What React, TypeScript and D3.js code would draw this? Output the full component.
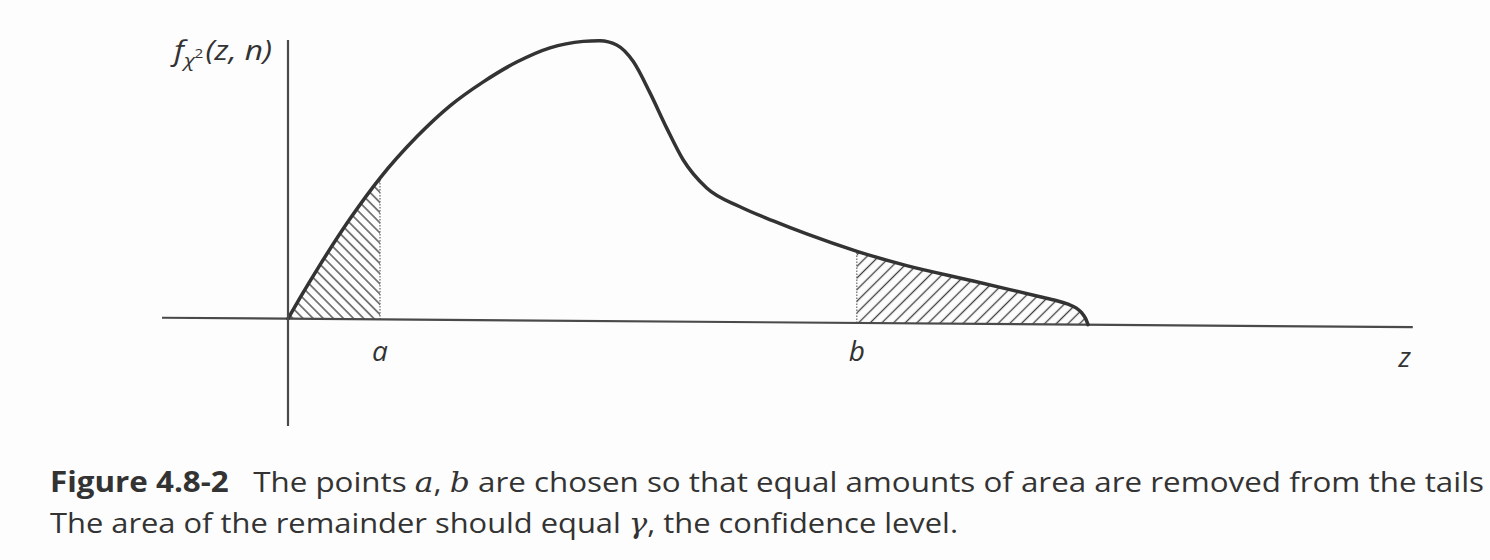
import React from 'react';
import * as d3 from 'd3';

// Chi-square density sketch: z positions and density heights (peak normalised to ~1)
const zValues = [0, 0.15, 0.4, 0.775, 1.15, 1.609, 2.025, 2.441, 2.859, 3.275, 3.691, 3.9, 4.109, 4.316, 4.525, 4.734, 4.941, 5.234, 5.65, 6.066, 6.484, 7.113, 7.734, 8.566, 9.4, 9.6, 9.75, 9.85, 9.92, 9.97, 10];
const density = [0, 0.075, 0.194, 0.36, 0.507, 0.656, 0.768, 0.855, 0.927, 0.979, 1.003, 1.006, 0.991, 0.932, 0.82, 0.694, 0.58, 0.48, 0.414, 0.364, 0.318, 0.257, 0.207, 0.154, 0.099, 0.086, 0.073, 0.06, 0.043, 0.022, 0];

// Lower and upper cut points; the tails beyond them are hatched
const criticalLabels = ['a', 'b'];
const criticalZ = [1.15, 7.11];

// Extent of the drawn axes in data units
const zAxisExtent = [-1.575, 14.06];
const fAxisExtent = [-0.385, 1.0];

const captionFigure = 'Figure 4.8-2';
const captionLine1 = ['The points ', 'a', ', ', 'b', ' are chosen so that equal amounts of area are removed from the tails'];
const captionLine2 = ['The area of the remainder should equal ', 'γ', ', the confidence level.'];

const W = 1490;
const H = 560;
const INK = '#333';
const SANS = '"Open Sans", "DejaVu Sans", sans-serif';
const SERIF = '"DejaVu Serif", "Liberation Serif", serif';

export default function App() {
  const x = d3.scaleLinear().domain([0, 10]).range([288, 1088]);
  const y = d3.scaleLinear().domain([0, 1]).range([318.7, 40]);

  const pts: [number, number][] = zValues.map((z, i) => [z, density[i]]);
  const curvePath = d3
    .line<[number, number]>()
    .x((d) => x(d[0]))
    .y((d) => y(d[1]))
    .curve(d3.curveMonotoneX)(pts) as string;
  const areaPath = d3
    .area<[number, number]>()
    .x((d) => x(d[0]))
    .y0(y(0))
    .y1((d) => y(d[1]))
    .curve(d3.curveMonotoneX)(pts) as string;

  const zMax = zValues[zValues.length - 1];
  const tails = [
    { id: 'hatchL', z0: 0, z1: criticalZ[0] },
    { id: 'hatchR', z0: criticalZ[1], z1: zMax },
  ];

  // the baseline of the figure runs slightly downhill to the right
  const skew = `translate(${x(0)},0) skewY(0.43) translate(${-x(0)},0)`;

  return (
    <svg
      width={W}
      height={H}
      viewBox={`0 0 ${W} ${H}`}
      style={{ position: 'absolute', left: 0, top: 0, background: '#fdfdfd' }}
    >
      <defs>
        <pattern id="hatchL" patternUnits="userSpaceOnUse" width={7.2} height={10} patternTransform="rotate(-45)">
          <line x1={3.6} y1={0} x2={3.6} y2={10} stroke="#3f3f3f" strokeWidth={1.3} />
        </pattern>
        <pattern id="hatchR" patternUnits="userSpaceOnUse" width={8.2} height={10} patternTransform="rotate(45)">
          <line x1={4.1} y1={0} x2={4.1} y2={10} stroke="#3f3f3f" strokeWidth={1.3} />
        </pattern>
        <clipPath id="underCurve">
          <path d={areaPath} />
        </clipPath>
      </defs>

      <rect width={W} height={H} fill="#fdfdfd" />

      <g transform={skew}>
        {/* hatched tails */}
        <g clipPath="url(#underCurve)">
          {tails.map((t) => (
            <rect
              key={t.id}
              x={x(t.z0)}
              y={y(1.1)}
              width={x(t.z1) - x(t.z0)}
              height={y(0) - y(1.1)}
              fill={`url(#${t.id})`}
            />
          ))}
          {criticalZ.map((z, i) => (
            <line
              key={i}
              x1={x(z)}
              x2={x(z)}
              y1={y(0)}
              y2={y(1.1)}
              stroke="#666"
              strokeWidth={1.2}
              strokeDasharray="1.5 1.5"
            />
          ))}
        </g>

        {/* z axis */}
        <line
          x1={x(zAxisExtent[0])}
          x2={x(zAxisExtent[1])}
          y1={y(0)}
          y2={y(0)}
          stroke="#4a4a4a"
          strokeWidth={2.2}
        />

        {/* density curve */}
        <path d={curvePath} fill="none" stroke={INK} strokeWidth={3.5} strokeLinejoin="round" strokeLinecap="round" />
      </g>

      {/* vertical axis */}
      <line
        x1={x(0)}
        x2={x(0)}
        y1={y(fAxisExtent[1])}
        y2={y(fAxisExtent[0])}
        stroke="#4a4a4a"
        strokeWidth={2.2}
      />

      {/* axis titles */}
      <text x={174} y={60} fontFamily={SANS} fontStyle="italic" fontSize={27} fill={INK} textLength={98} lengthAdjust="spacingAndGlyphs">
        f
        <tspan dy={7} fontSize={18}>χ</tspan>
        <tspan dy={-9} fontSize={13} fontStyle="normal">2</tspan>
        <tspan dy={2} dx={2}>(z, n)</tspan>
      </text>
      <text x={x(zAxisExtent[1]) - 8} y={367} fontFamily={SANS} fontStyle="italic" fontSize={28} fill={INK} textAnchor="middle">
        z
      </text>

      {/* cut-point labels */}
      {criticalZ.map((z, i) => (
        <text
          key={i}
          x={x(z)}
          y={361}
          fontFamily={SANS}
          fontStyle="italic"
          fontSize={28}
          fill={INK}
          textAnchor="middle"
        >
          {criticalLabels[i]}
        </text>
      ))}

      {/* caption */}
      <text x={50} y={492} fontFamily={SANS} fontSize={28} fill="#333" textLength={1434} lengthAdjust="spacingAndGlyphs">
        <tspan fontWeight="bold">{captionFigure}</tspan>
        <tspan>{'\u00a0\u00a0\u00a0'}{captionLine1[0]}</tspan>
        <tspan fontFamily={SERIF} fontStyle="italic">{captionLine1[1]}</tspan>
        <tspan>{captionLine1[2]}</tspan>
        <tspan fontFamily={SERIF} fontStyle="italic">{captionLine1[3]}</tspan>
        <tspan>{captionLine1[4]}</tspan>
      </text>
      <text x={50} y={533} fontFamily={SANS} fontSize={28} fill="#333" textLength={908} lengthAdjust="spacingAndGlyphs">
        <tspan>{captionLine2[0]}</tspan>
        <tspan fontFamily={SERIF} fontStyle="italic">{captionLine2[1]}</tspan>
        <tspan>{captionLine2[2]}</tspan>
      </text>
    </svg>
  );
}
